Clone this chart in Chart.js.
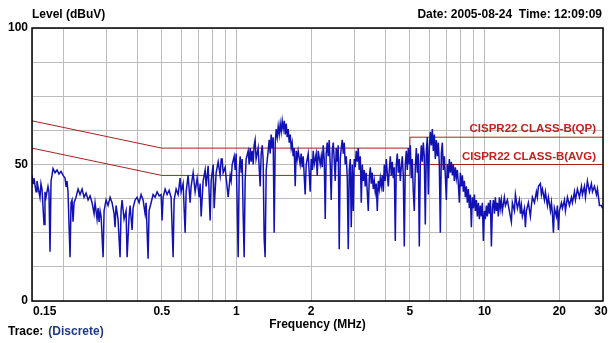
<!DOCTYPE html>
<html>
<head>
<meta charset="utf-8">
<script src="https://cdn.jsdelivr.net/npm/chart.js@4.4.1/dist/chart.umd.min.js"></script>
<style>
  html, body { margin: 0; padding: 0; background: #fff; }
  #wrap { width: 613px; height: 343px; }
</style>
</head>
<body>
<div id="wrap"><canvas id="chart" width="613" height="343"></canvas></div>
<script>
// scan trace (MHz / dBuV)
const freqMHz = [
  0.150, 0.1514, 0.1528, 0.1557, 0.1571, 0.1585, 0.1615, 0.1630,
  0.1646, 0.1677, 0.1692, 0.1708, 0.1740, 0.1756, 0.1773, 0.1790,
  0.1806, 0.1823, 0.1857, 0.1892, 0.1927,
  0.1964, 0.2001, 0.2038, 0.2057, 0.2075, 0.2095, 0.2135, 0.2155,
  0.2175, 0.2195, 0.2216, 0.2257, 0.2300, 0.2343,
  0.2387, 0.2432, 0.2478, 0.2524, 0.2571,
  0.2619, 0.2668, 0.2693, 0.2743, 0.2769, 0.2795, 0.2822, 0.2848,
  0.2901, 0.2928, 0.2983, 0.3038, 0.3096,
  0.3153, 0.3212, 0.3242, 0.3272, 0.3333, 0.3396, 0.3428,
  0.3460, 0.3525, 0.3591, 0.3625, 0.3693, 0.3727,
  0.3797, 0.3832, 0.3904, 0.3977, 0.4052, 0.4128,
  0.4205, 0.4283, 0.4324, 0.4404, 0.4445, 0.4529,
  0.4615, 0.4701, 0.4789, 0.4879, 0.4970,
  0.5016, 0.5063, 0.5158, 0.5254, 0.5353, 0.5453,
  0.5556, 0.5608, 0.5713, 0.5820, 0.5929, 0.5984,
  0.6096, 0.6211, 0.6269, 0.6386, 0.6506, 0.6567,
  0.6690, 0.6815, 0.6943, 0.7073, 0.7139, 0.7206,
  0.7341, 0.7479, 0.7548, 0.7690, 0.7834, 0.7907,
  0.8056, 0.8131, 0.8283, 0.8438, 0.8596, 0.8677,
  0.8757, 0.8839, 0.9005, 0.9089, 0.9260, 0.9434, 0.9522,
  0.9610, 0.9790, 0.9882, 0.9974, 1.016, 1.026, 1.035, 1.045,
  1.0545, 1.064, 1.074, 1.084, 1.094, 1.115, 1.125, 1.136, 1.146,
  1.157, 1.168, 1.178, 1.189, 1.200, 1.223, 1.246, 1.258,
  1.270, 1.281, 1.293, 1.305, 1.318, 1.342, 1.355, 1.368, 1.380,
  1.393, 1.406, 1.419, 1.433, 1.446, 1.460, 1.473, 1.487, 1.501, 1.515,
  1.529, 1.543, 1.558, 1.572, 1.587, 1.602, 1.617, 1.632, 1.647, 1.662,
  1.677, 1.693, 1.709, 1.725, 1.741, 1.757, 1.773, 1.806, 1.823,
  1.841, 1.858, 1.875, 1.892, 1.910, 1.946, 1.964, 1.982, 2.001,
  2.020, 2.039, 2.058, 2.096, 2.116, 2.135, 2.176, 2.196,
  2.216, 2.237, 2.258, 2.279, 2.300, 2.321, 2.343, 2.365, 2.387, 2.409,
  2.432, 2.455, 2.477, 2.501, 2.524, 2.547, 2.571, 2.595, 2.620, 2.644,
  2.669, 2.694, 2.719, 2.744, 2.770, 2.796, 2.822, 2.848, 2.875, 2.901,
  2.928, 2.956, 2.983, 3.011, 3.039, 3.068, 3.096, 3.125, 3.155, 3.184,
  3.213, 3.243, 3.274, 3.304, 3.335, 3.366, 3.398, 3.430, 3.462, 3.494,
  3.526, 3.559, 3.593, 3.626, 3.660, 3.694, 3.729, 3.764, 3.799, 3.834,
  3.869, 3.906, 3.942, 3.979, 4.016, 4.053, 4.091, 4.129, 4.168, 4.207,
  4.246, 4.286, 4.326, 4.366, 4.407, 4.448, 4.489, 4.531, 4.573, 4.616,
  4.659, 4.703, 4.746, 4.791, 4.835, 4.880, 4.926, 4.972, 5.018, 5.065,
  5.112, 5.160, 5.208, 5.257, 5.306, 5.355, 5.405, 5.456, 5.507, 5.558,
  5.610, 5.662, 5.715, 5.768, 5.822, 5.877, 5.932, 5.987, 6.043, 6.099,
  6.156, 6.214, 6.272, 6.330, 6.389, 6.449, 6.509, 6.570, 6.631, 6.693,
  6.755, 6.818, 6.882, 6.946, 7.011, 7.076, 7.142, 7.209, 7.276, 7.344,
  7.412, 7.481, 7.551, 7.622, 7.693, 7.765, 7.837, 7.910, 7.984, 8.059,
  8.134, 8.210, 8.287, 8.364, 8.442, 8.521, 8.600, 8.681, 8.762, 8.843,
  8.925, 9.009, 9.093, 9.177, 9.263, 9.349, 9.437, 9.525, 9.614, 9.704,
  9.794, 9.886, 9.978, 10.07, 10.17, 10.26, 10.36, 10.45, 10.55, 10.65,
  10.75, 10.85, 10.95, 11.05, 11.15, 11.26, 11.36, 11.47, 11.57, 11.68,
  11.79, 12.01, 12.13, 12.35, 12.58, 12.82,
  12.94, 13.19, 13.31, 13.56, 13.81, 13.94, 14.07,
  14.20, 14.47, 14.60, 14.74, 15.01, 15.29, 15.44,
  15.58, 15.88, 16.17, 16.32, 16.48, 16.78, 16.94,
  17.10, 17.42, 17.58, 17.91, 18.08, 18.42, 18.59,
  18.76, 18.94, 19.11, 19.47, 19.65, 19.84, 20.02, 20.40,
  20.59, 20.98, 21.17, 21.57, 21.97, 22.38,
  22.59, 23.02, 23.23, 23.66, 24.11, 24.56,
  24.79, 25.25, 25.49, 25.96, 26.45, 26.94,
  27.20, 27.71, 28.23, 28.49, 29.03, 29.57, 29.85
];
const levelDbuv = [
  46, 43, 45, 40, 44, 42, 38, 43,
  41, 28, 40, 38, 42, 40, 18, 44,
  46, 48.5, 47, 48, 46.5,
  47.5, 46, 45, 42, 44, 40, 16, 36,
  37, 29, 36, 38, 41, 39,
  41, 38, 39.5, 37, 38.5,
  36, 32, 36, 30, 34, 29, 33, 31,
  16, 33, 37, 35, 38,
  36, 32, 27, 35, 30, 16, 33,
  37, 30, 33, 16, 31, 35,
  26, 34, 37, 38, 36, 39,
  37, 32, 36, 15.5, 33, 36,
  39, 38, 40, 38.5, 39,
  29.5, 38, 41, 39, 40.5, 38,
  16, 37, 41, 39, 45, 40,
  43, 25, 40, 46, 36, 42,
  47, 40, 45, 38, 43, 31,
  44, 48, 42, 49.5, 29.5, 44,
  50, 34, 47, 51, 46, 52,
  52, 47, 49, 45, 38, 46, 44,
  50, 53, 48, 54, 16, 48, 53, 47,
  52, 32, 16, 44, 52, 55, 50, 56, 51,
  55, 50, 57, 59, 52, 56, 42, 54,
  57, 52, 23, 16, 48, 55, 59, 54, 61,
  56, 60, 25, 58, 63, 60, 64, 61, 65, 62,
  66, 63, 66, 61, 65, 60, 63, 58, 61, 56,
  58, 53, 56, 42, 55, 52, 55, 50, 54,
  49, 53, 46, 39, 50, 54, 47, 40, 52,
  48, 55, 50, 54, 46, 55, 50, 53,
  49, 57, 52, 30, 54, 58, 53, 59, 50, 37,
  55, 58, 52, 44, 56, 51, 57, 19, 52, 56,
  59, 54, 58, 50, 53, 45, 19, 48, 52, 27,
  50, 33, 52, 49, 55, 51, 56, 48, 53, 36,
  50, 44, 48, 42, 47, 40, 33, 45, 49, 43,
  47, 41, 44, 40, 43, 33, 44, 41, 45, 42,
  46, 40, 50, 44, 52, 47, 42, 48, 53, 46,
  51, 45, 49, 22, 50, 54, 47, 52, 44, 49,
  53, 46, 20, 50, 55, 48, 56, 50, 57, 45,
  52, 40, 33, 49, 56, 47, 54, 20, 50, 57,
  51, 58, 53, 28, 55, 60, 39, 56, 62, 57,
  63, 55, 61, 52, 59, 53, 58, 50, 25, 54,
  58, 48, 53, 46, 37, 50, 45, 52, 47, 51,
  46, 50, 44, 49, 45, 48, 43, 36, 47, 42,
  46, 40, 44, 38, 42, 36, 41, 34, 39, 27,
  38, 34, 39, 33, 37, 31, 36, 30, 35, 31,
  36, 22, 33, 30, 35, 31, 36, 32, 37, 20,
  34, 37, 32, 38, 33, 36, 31, 38, 34, 37,
  33, 38, 35, 37, 33, 29,
  36, 33, 39, 34, 37, 32, 35,
  31, 34, 27, 33, 36, 31, 35,
  38, 36, 40, 38, 42, 43, 39,
  41, 37, 40, 35, 38, 33, 36,
  32, 25, 34, 31, 35, 26, 33, 36,
  34, 37, 33, 38, 35, 38,
  36, 40, 37, 41, 38, 42,
  39, 42, 38, 44, 40, 43,
  40, 42, 39, 41, 35, 35, 34
];

// CISPR22 class B limits
const qpFreq = [0.15, 0.5, 5, 5, 30];
const qpLimit = [66, 56, 56, 60, 60];
const avgFreq = [0.15, 0.5, 5, 5, 30];
const avgLimit = [56, 46, 46, 50, 50];

const gridFreqs = [0.15, 0.2, 0.3, 0.4, 0.5, 0.6, 0.7, 0.8, 0.9, 1, 2, 3, 4, 5, 6, 7, 8, 9, 10, 20, 30];
const freqTickLabels = [0.15, 0.5, 1, 2, 5, 10, 20, 30];
const levelTickLabels = [0, 50, 100];

const qpText = "CISPR22 CLASS-B(QP)";
const avgText = "CISPR22 CLASS-B(AVG)";

function toPoints(xs, ys) {
  const n = Math.min(xs.length, ys.length);
  const out = [];
  for (let i = 0; i < n; i++) out.push({ x: xs[i], y: ys[i] });
  return out;
}

const FONT = "bold 12px 'Liberation Sans', Arial, sans-serif";

const frame = {
  id: "frame",
  afterDraw(chart) {
    const ctx = chart.ctx;
    const a = chart.chartArea;
    const xs = chart.scales.x;
    const ys = chart.scales.y;
    ctx.save();

    // plot border
    ctx.strokeStyle = "#000";
    ctx.lineWidth = 1.5;
    ctx.strokeRect(a.left, a.top, a.right - a.left, a.bottom - a.top);

    ctx.font = FONT;
    ctx.fillStyle = "#000";
    ctx.textBaseline = "middle";

    // y labels
    ctx.textAlign = "right";
    levelTickLabels.forEach((v) => {
      ctx.fillText(String(v), a.left - 4, ys.getPixelForValue(v));
    });

    // x labels
    const ly = a.bottom + 11;
    freqTickLabels.forEach((v, i) => {
      const px = xs.getPixelForValue(v);
      if (i === 0) {
        ctx.textAlign = "left";
        ctx.fillText(String(v), px + 1, ly);
      } else {
        ctx.textAlign = "center";
        ctx.fillText(String(v), i === freqTickLabels.length - 1 ? px - 2 : px, ly);
      }
    });

    ctx.textAlign = "center";
    ctx.fillText("Frequency (MHz)", (a.left + a.right) / 2, a.bottom + 24);

    ctx.textAlign = "left";
    ctx.fillText("Level (dBuV)", a.left, 15);
    ctx.textAlign = "right";
    ctx.fillText("Date: 2005-08-24  Time: 12:09:09", a.right - 1, 15);

    ctx.textAlign = "left";
    ctx.fillText("Trace:", 8, a.bottom + 31);
    const tw = ctx.measureText("Trace:").width;
    ctx.fillStyle = "#1f3a8a";
    ctx.fillText("(Discrete)", 8 + tw + 5, a.bottom + 31);

    // limit labels
    ctx.fillStyle = "#c81e1e";
    ctx.textAlign = "right";
    ctx.font = "bold 11.5px 'Liberation Sans', Arial, sans-serif";
    ctx.fillText(qpText, a.right - 7, ys.getPixelForValue(qpLimit[qpLimit.length - 1]) - 8);
    ctx.fillText(avgText, a.right - 7, ys.getPixelForValue(avgLimit[avgLimit.length - 1]) - 8);

    ctx.restore();
  }
};

new Chart(document.getElementById("chart"), {
  type: "line",
  data: {
    datasets: [
      {
        label: "Trace",
        data: toPoints(freqMHz, levelDbuv),
        borderColor: "#1212b4",
        borderWidth: 1.5,
        pointRadius: 0,
        order: 0
      },
      {
        label: "QP",
        data: toPoints(qpFreq, qpLimit),
        borderColor: "#a82020",
        borderWidth: 1,
        pointRadius: 0,
        order: 1
      },
      {
        label: "AVG",
        data: toPoints(avgFreq, avgLimit),
        borderColor: "#a82020",
        borderWidth: 1,
        pointRadius: 0,
        order: 2
      }
    ]
  },
  options: {
    responsive: false,
    animation: false,
    devicePixelRatio: 1,
    layout: { padding: { left: 32, right: 10, top: 28, bottom: 42 } },
    elements: { line: { tension: 0 } },
    plugins: {
      legend: { display: false },
      tooltip: { enabled: false }
    },
    scales: {
      x: {
        type: "logarithmic",
        min: 0.15,
        max: 30,
        afterBuildTicks: (scale) => {
          scale.ticks = gridFreqs.map((v) => ({ value: v }));
        },
        ticks: { display: false },
        grid: { color: "#bcbcbc", drawTicks: false },
        border: { display: false }
      },
      y: {
        type: "linear",
        min: 0,
        max: 100,
        ticks: { display: false, stepSize: 12.5 },
        grid: { color: "#bcbcbc", drawTicks: false },
        border: { display: false }
      }
    }
  },
  plugins: [frame]
});
</script>
</body>
</html>
